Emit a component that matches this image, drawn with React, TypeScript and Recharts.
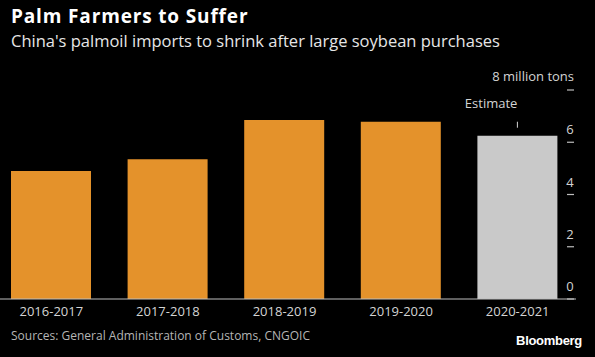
import { BarChart, Bar, XAxis, YAxis, Cell, LabelList } from 'recharts'

const SEASONS = ['2016-2017', '2017-2018', '2018-2019', '2019-2020', '2020-2021']
const IMPORTS = [4.9, 5.35, 6.85, 6.78, 6.25]
const IS_ESTIMATE = [false, false, false, false, true]
const Y_TICKS = [0, 2, 4, 6, 8]

const FONT = '"Open Sans", "Noto Sans", Arial, sans-serif'
const ORANGE = '#e4922b'
const GREY_BAR = '#c9c9c9'
const AXIS = '#bdbdbd'
const TEXT = '#d4d4d4'

const data = SEASONS.map((season, i) => ({
  season,
  value: IMPORTS[i],
  estimate: IS_ESTIMATE[i],
}))

function RightTick(props: any) {
  const { x, y, payload } = props
  const v = payload.value
  return (
    <g>
      <line x1={x - 9} x2={x - 2} y1={y} y2={y} stroke={AXIS} strokeWidth={1.2} />
      {v === 8 ? (
        <text x={x - 2} y={y - 9} textAnchor="end" fill={TEXT} fontSize={13} fontFamily={FONT}>
          8 million tons
        </text>
      ) : (
        <text x={x - 6} y={y - 8} textAnchor="middle" fill={TEXT} fontSize={13} fontFamily={FONT}>
          {v}
        </text>
      )}
    </g>
  )
}

function EstimateLabel(props: any) {
  const { x, y, width, index } = props
  if (!IS_ESTIMATE[index]) return null
  const cx = x + width / 2
  return (
    <g>
      <line x1={cx} x2={cx} y1={y - 14} y2={y - 8} stroke={TEXT} strokeWidth={1} />
      <text x={cx} y={y - 28} textAnchor="end" fill={TEXT} fontSize={13} fontFamily={FONT}>
        Estimate
      </text>
    </g>
  )
}

export default function App() {
  return (
    <div style={{ position: 'fixed', left: 0, top: 0, width: 595, height: 357, background: '#000', overflow: 'hidden', fontFamily: FONT }}>
      <div style={{ position: 'absolute', left: 11, top: 7, color: '#fff', fontWeight: 700, fontSize: 19, lineHeight: '18px', letterSpacing: 0.85 }}>
        Palm Farmers to Suffer
      </div>
      <div style={{ position: 'absolute', left: 11, top: 30, color: '#e6e6e6', fontSize: 16.5, lineHeight: '22px' }}>
        China's palmoil imports to shrink after large soybean purchases
      </div>
      <div style={{ position: 'absolute', left: -7, top: 0 }}>
        <BarChart
          width={620}
          height={357}
          data={data}
          margin={{ top: 90, right: 17, bottom: 38, left: 0 }}
        >
          <XAxis
            dataKey="season"
            height={20}
            tickLine={false}
            axisLine={{ stroke: AXIS, strokeWidth: 1.2 }}
            tick={{ fill: TEXT, fontSize: 13, fontFamily: FONT }}
            tickMargin={2}
            interval={0}
          />
          <YAxis
            orientation="right"
            width={20}
            domain={[0, 8]}
            ticks={Y_TICKS}
            axisLine={false}
            tickLine={false}
            tickSize={0}
            tickMargin={0}
            tick={<RightTick />}
          />
          <Bar dataKey="value" barSize={80} isAnimationActive={false}>
            {data.map((d, i) => (
              <Cell key={i} fill={d.estimate ? GREY_BAR : ORANGE} />
            ))}
            <LabelList dataKey="value" content={<EstimateLabel />} />
          </Bar>
        </BarChart>
      </div>
      <div style={{ position: 'absolute', left: 11, top: 327, color: '#b5b5b5', fontSize: 12, lineHeight: '18px' }}>
        Sources: General Administration of Customs, CNGOIC
      </div>
      <div style={{ position: 'absolute', right: 13, top: 332, color: '#fff', fontWeight: 700, fontSize: 13, lineHeight: '18px', fontFamily: '"Liberation Sans", Arial, sans-serif', letterSpacing: -0.3 }}>
        Bloomberg
      </div>
    </div>
  )
}
